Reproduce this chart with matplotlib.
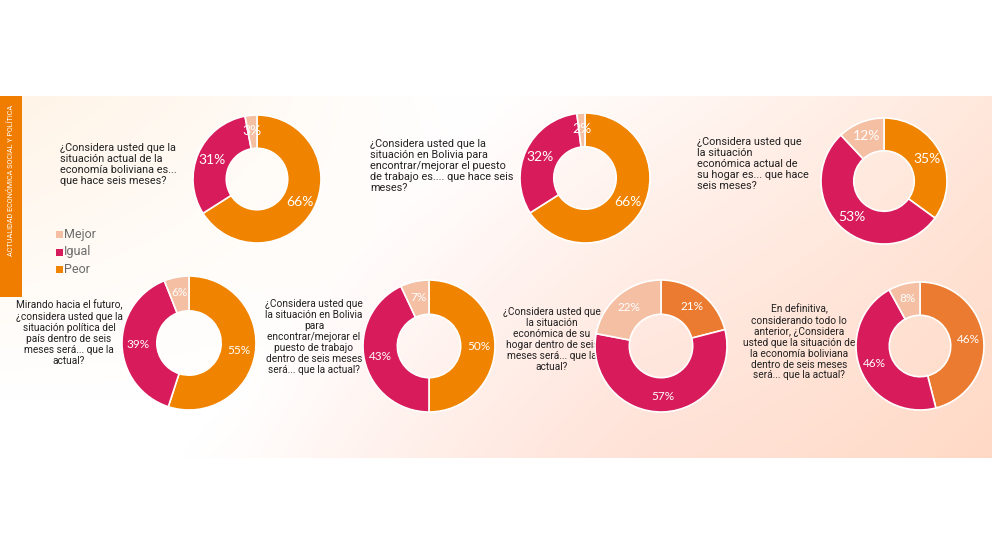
import numpy as np
import matplotlib
matplotlib.use("Agg")
import matplotlib.pyplot as plt
from matplotlib.patches import Rectangle

# ---------------- data ----------------
categories = ["Peor", "Igual", "Mejor"]          # drawn clockwise from 12 o'clock
legend_order = ["Mejor", "Igual", "Peor"]

peor  = [66, 66, 35, 55, 50, 21, 46]
igual = [31, 32, 53, 39, 43, 57, 46]
mejor = [3, 2, 12, 6, 7, 22, 8]

questions = [
    "¿Considera usted que la\nsituación actual de la\neconomía boliviana es...\nque hace seis meses?",
    "¿Considera usted que la\nsituación en Bolivia para\nencontrar/mejorar el puesto\nde trabajo es.... que hace seis\nmeses?",
    "¿Considera usted que\nla situación\neconómica actual de\nsu hogar es... que hace\nseis meses?",
    "Mirando hacia el futuro,\n¿considera usted que la\nsituación política del\npaís dentro de seis\nmeses será... que la\nactual?",
    "¿Considera usted que\nla situación en Bolivia\npara\nencontrar/mejorar el\npuesto de trabajo\ndentro de seis meses\nserá... que la actual?",
    "¿Considera usted que\nla situación\neconómica de su\nhogar dentro de seis\nmeses será... que la\nactual?",
    "En definitiva,\nconsiderando todo lo\nanterior, ¿Considera\nusted que la situación de\nla economía boliviana\ndentro de seis meses\nserá... que la actual?",
]
sidebar_text = "ACTUALIDAD ECONÓMICA SOCIAL Y POLÍTICA"

# ---------------- style / layout ----------------
W, H = 992, 545
C_PEOR = "#F08300"
C_PEOR2 = "#EA7B30"
C_IGUAL = "#D71B5B"
C_MEJOR = "#F4BFA3"
chart_peor_colors = [C_PEOR, C_PEOR, C_PEOR, C_PEOR, C_PEOR, C_PEOR2, C_PEOR2]

# donut centers (pixel coords, y downward) and radii
centers = [(257, 179), (585, 178), (884, 181), (189, 343), (429, 346), (661, 346), (920, 346)]
radii = [64, 65, 63, 67, 66, 66, 64]
pct_sizes = [10, 10, 10, 8.5, 8.5, 8.5, 8.5]
# question text anchor: (x, y_top, ha)
q_pos = [(60, 143, "left"), (370, 139, "left"), (697, 137, "left"),
         (69, 300, "center"), (314, 299, "center"), (552, 307, "center"), (799, 304, "center")]
q_sizes = [7.8, 7.8, 7.8, 7.3, 7.3, 7.3, 7.3]

fig = plt.figure(figsize=(W / 100, H / 100), dpi=100)
ax = fig.add_axes([0, 0, 1, 1])
ax.set_xlim(0, W)
ax.set_ylim(0, H)
ax.set_aspect("equal")
ax.axis("off")

def Y(y):
    return H - y

# background gradient panel
top, bot = 96, 458
nx, ny = 400, 150
u = np.linspace(0, 1, nx)[None, :]
v = np.linspace(1, 0, ny)[:, None]  # 1 at top
white = np.array([1.0, 1.0, 1.0])
peach = np.array([1.0, 0.835, 0.75])
pink = np.array([1.0, 0.90, 0.90])
cream = np.array([1.0, 0.95, 0.89])
w_peach = np.clip(1.1 * u + 0.35 * (1 - v) - 0.55, 0, 1)[..., None]
w_pink = (np.clip(1 - np.abs(u - 0.65) * 2.5, 0, 1) * np.clip(1 - v, 0, 1) * 0.6)[..., None]
w_cream = (np.clip(1 - u * 2.2, 0, 1) * np.clip(v * 1.2 - 0.2, 0, 1) * 0.9)[..., None]
img = white[None, None, :] * np.ones((ny, nx, 1))
img = img * (1 - w_cream) + cream * w_cream
img = img * (1 - w_pink) + pink * w_pink
img = img * (1 - w_peach) + peach * w_peach
ax.imshow(img, extent=(0, W, Y(bot), Y(top)), aspect="auto", zorder=0, interpolation="bilinear")

# sidebar
ax.add_patch(Rectangle((0, Y(297)), 22, 297 - top, color="#F07D00", zorder=1, lw=0))
ax.text(11.5, Y(180), sidebar_text, rotation=90, ha="center", va="center",
        color="white", fontsize=5.2, family=["Roboto", "DejaVu Sans"], zorder=2)

# legend
leg_colors = {"Mejor": C_MEJOR, "Igual": C_IGUAL, "Peor": C_PEOR}
for i, name in enumerate(legend_order):
    yc = 234.5 + i * 17.5
    ax.add_patch(Rectangle((56, Y(yc) - 3.5), 7, 7, color=leg_colors[name], lw=0, zorder=2))
    ax.text(64, Y(yc), name, ha="left", va="center", fontsize=9, color="#6b6b6b",
            family=["Roboto", "DejaVu Sans"], zorder=2)

# donuts
for i in range(len(peor)):
    vals = [peor[i], igual[i], mejor[i]]
    cols = [chart_peor_colors[i], C_IGUAL, C_MEJOR]
    cx, cy = centers[i]
    r = radii[i]
    wedges, texts, autotexts = ax.pie(
        vals, colors=cols, startangle=90, counterclock=False,
        center=(cx, Y(cy)), radius=r, frame=True,
        wedgeprops=dict(width=r * 0.52, edgecolor="white", linewidth=1.2),
        autopct=lambda p: f"{p:.0f}%", pctdistance=0.76,
        textprops=dict(color="white", fontsize=pct_sizes[i], family=["Lato", "DejaVu Sans"]))
    for w in wedges:
        w.set_zorder(3)
    for t in autotexts:
        t.set_zorder(4)
    qx, qy, ha = q_pos[i]
    ax.text(qx, Y(qy), questions[i], ha=ha, va="top", multialignment=ha,
            fontsize=q_sizes[i], color="#222222", linespacing=1.12,
            family=["Roboto", "DejaVu Sans"], zorder=2)

ax.set_xlim(0, W)
ax.set_ylim(0, H)
ax.axis("off")

fig.savefig("out.png", dpi=100)
